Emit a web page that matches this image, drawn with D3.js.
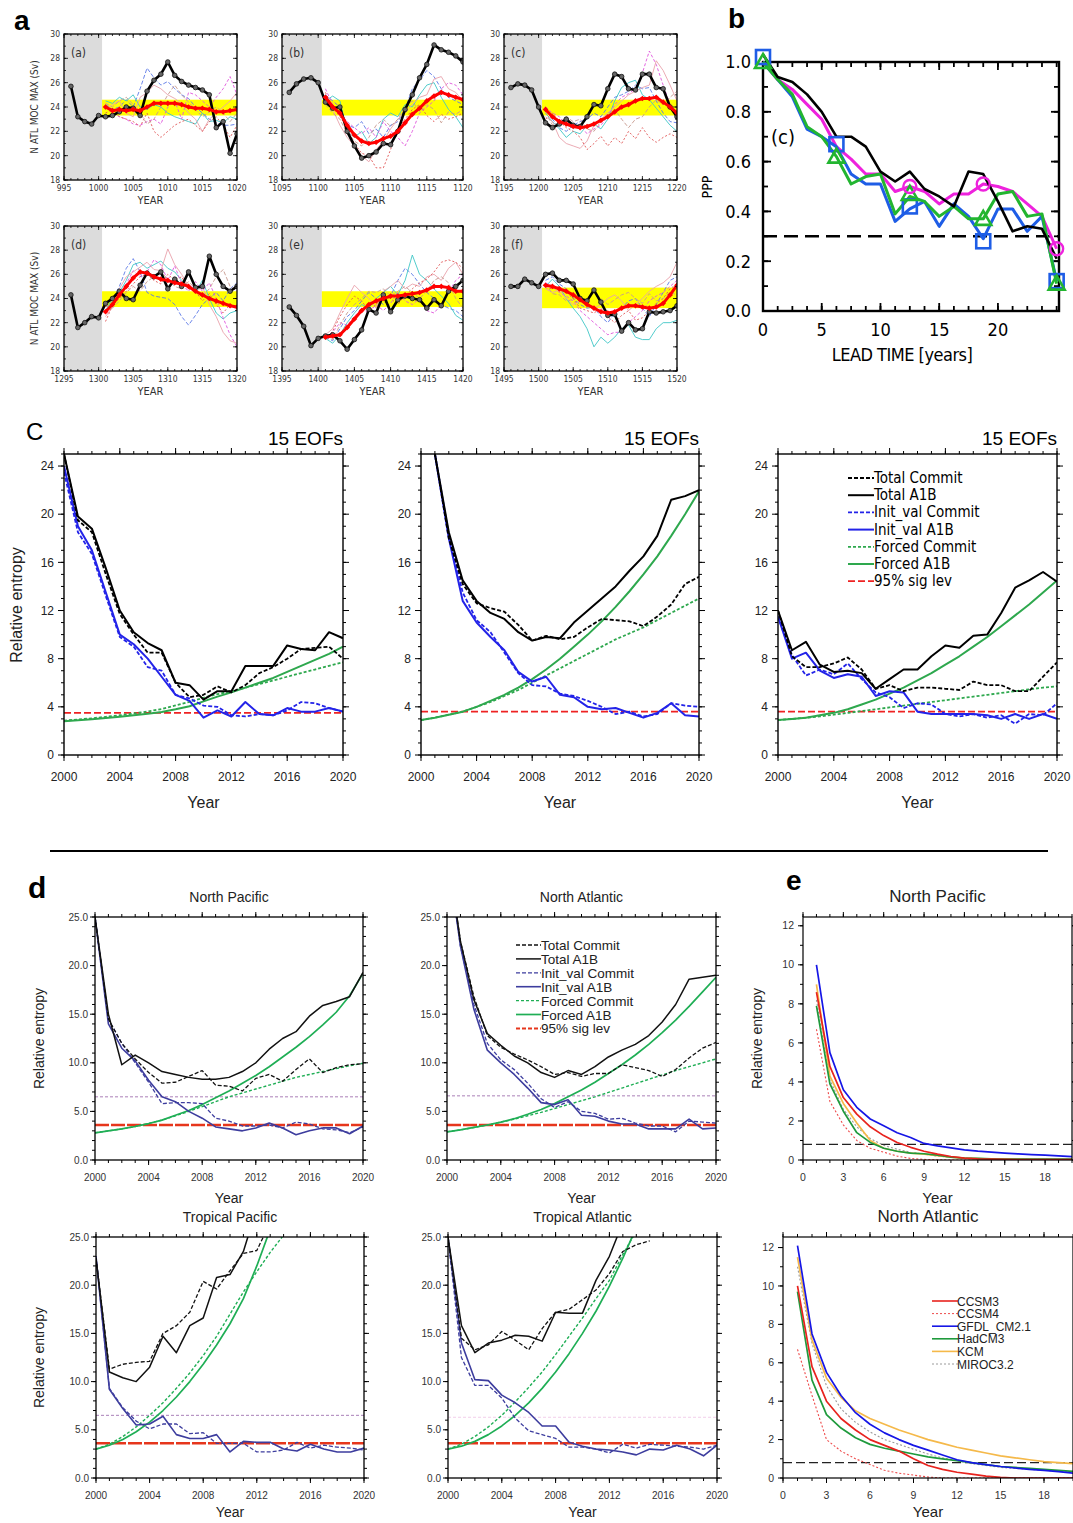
<!DOCTYPE html>
<html><head><meta charset="utf-8">
<script src="https://cdn.jsdelivr.net/npm/d3@7"></script>
<style>body{margin:0;background:#fff}svg{display:block}</style>
</head><body>
<script>
// ================= DATA =================
// ---- Panel a: N ATL MOC max (Sv), six ensemble experiments ----
const aStartYears = [995, 1095, 1195, 1295, 1395, 1495];
const aLabels = ["(a)", "(b)", "(c)", "(d)", "(e)", "(f)"];
const aTickYears = [[995,1000,1005,1010,1015,1020],[1095,1100,1105,1110,1115,1120],[1195,1200,1205,1210,1215,1220],
                    [1295,1300,1305,1310,1315,1320],[1395,1400,1405,1410,1415,1420],[1495,1500,1505,1510,1515,1520]];
const aYTicks = [18,20,22,24,26,28,30];
const aBand = [[23.3,24.6],[23.3,24.6],[23.3,24.6],[23.3,24.6],[23.3,24.6],[23.2,24.9]];
// control run (black), years start+1 .. start+25
const aControl = [
  [25.7,23.2,22.8,22.6,23.3,23.2,23.3,23.6,24.0,23.9,23.3,25.3,26.2,26.7,27.7,26.6,26.1,25.8,25.6,25.4,25.0,22.3,22.8,20.2,21.8],
  [25.2,25.9,26.3,26.4,26.0,24.4,23.9,24.0,22.0,20.8,19.8,20.0,20.3,21.0,20.9,22.0,23.8,25.0,26.4,27.5,29.1,28.7,28.5,28.2,27.7],
  [25.6,25.9,25.8,25.4,24.0,22.7,22.3,22.6,23.0,22.5,22.4,23.2,24.2,24.1,25.5,26.7,26.5,25.5,25.4,26.7,26.7,25.6,25.5,24.0,23.2],
  [24.3,21.6,22.0,22.5,22.4,23.6,24.0,24.6,24.0,23.9,25.1,26.1,25.8,26.2,24.8,25.6,25.0,26.2,24.9,25.0,27.5,26.0,25.0,24.6,25.0],
  [23.3,22.6,21.7,20.1,20.7,20.9,21.0,20.5,19.8,20.6,21.4,23.1,22.8,24.3,22.9,23.9,24.2,24.0,23.9,23.2,23.9,23.4,24.6,25.0,25.5],
  [25.0,25.0,25.6,25.3,25.0,26.0,26.1,25.5,25.5,25.2,24.0,23.8,24.7,23.7,22.6,22.7,21.3,22.0,21.4,21.5,22.9,22.8,22.9,23.0,23.4]
];
// ensemble mean (red), years start+6 .. start+25
const aMean = [
  [24.0,23.7,23.8,23.7,23.8,23.7,24.0,24.3,24.3,24.3,24.3,24.2,24.0,23.9,23.9,23.8,23.6,23.6,23.7,23.8],
  [24.8,24.0,23.5,22.5,21.7,21.2,21.0,21.1,21.4,21.6,22.0,22.7,23.4,23.9,24.5,24.9,25.2,25.0,24.8,24.6],
  [23.8,23.2,22.8,22.6,22.4,22.3,22.4,22.6,22.9,23.2,23.6,24.0,24.2,24.5,24.7,24.7,24.8,24.4,24.0,23.5],
  [22.9,23.5,24.3,25.0,25.7,26.2,26.1,25.8,25.6,25.5,25.3,25.2,25.0,24.6,24.3,24.0,23.8,23.6,23.4,23.3],
  [20.8,20.9,21.0,21.6,22.3,23.0,23.5,23.8,24.0,24.2,24.2,24.3,24.4,24.5,24.7,25.0,25.0,24.9,24.6,24.6],
  [25.1,25.0,24.8,24.6,24.3,23.9,23.5,23.2,22.9,22.8,22.9,23.2,23.4,23.4,23.3,23.2,23.3,23.6,24.3,25.1]
];
// individual ensemble members, years start+6 .. start+25
const aMembersA = [
  [24.2,23.8,24.0,24.6,24.0,25.5,27.2,26.4,25.8,26.1,25.5,25.0,24.7,24.0,23.5,23.0,22.7,22.5,22.5,22.6],
  [24.5,24.3,24.8,24.5,25.0,24.0,23.8,24.2,24.0,23.5,23.2,23.0,22.8,22.6,23.5,22.8,22.9,22.7,23.2,23.0],
  [24.0,23.5,23.2,23.0,22.6,22.5,22.8,23.0,22.6,24.0,24.5,23.0,25.2,25.0,24.5,24.0,24.8,25.5,26.5,25.0],
  [23.8,24.2,24.5,23.5,23.2,24.8,25.2,25.8,25.5,25.0,24.7,24.3,23.5,23.0,22.0,23.0,23.5,24.0,24.5,25.2],
  [23.5,23.8,23.2,23.0,22.8,22.4,23.5,22.0,21.5,22.0,22.5,22.8,23.0,22.5,22.0,22.8,23.2,22.5,21.5,22.5],
  [24.3,24.0,24.5,24.8,24.2,23.5,22.6,23.0,24.0,25.0,25.8,25.0,24.4,23.8,23.2,23.6,24.0,23.5,22.8,23.5]
];
const aMembersB = [
  [25.0,24.5,24.0,22.5,22.3,22.8,21.8,22.2,21.5,22.5,22.8,23.8,25.5,26.2,27.0,26.5,25.5,24.8,24.5,24.2],
  [24.5,24.9,24.5,22.0,21.5,22.0,21.0,21.5,23.0,23.5,23.2,24.2,24.0,25.0,25.8,26.0,24.8,23.8,23.2,22.3],
  [25.5,24.2,23.5,22.8,22.3,21.8,22.3,21.5,22.8,22.0,21.5,20.8,22.0,23.5,24.0,24.5,25.5,26.0,25.8,25.0],
  [24.8,23.8,22.5,21.5,20.8,20.0,19.5,20.5,21.2,22.2,23.0,23.5,24.2,24.8,25.0,26.3,26.5,25.5,25.2,24.5],
  [25.2,24.0,23.2,22.3,21.0,20.2,20.0,19.0,19.0,20.5,22.3,23.0,23.8,24.2,23.3,22.8,23.4,23.0,23.2,23.5],
  [24.2,23.5,23.0,21.8,21.2,20.8,21.5,22.5,23.0,22.4,23.0,24.0,24.5,23.6,24.2,23.8,22.7,23.6,23.4,23.8]
];
const aMembersC = [
  [23.9,23.0,22.3,22.0,22.5,22.8,23.0,23.5,23.2,24.0,24.8,25.0,25.3,25.8,25.5,25.6,24.5,23.5,22.8,22.7],
  [23.5,22.8,22.2,21.5,22.0,21.8,22.5,22.6,22.2,23.0,24.5,25.6,26.0,26.2,25.0,24.6,23.9,23.2,22.5,22.0],
  [24.0,23.5,23.2,22.5,22.6,22.5,21.8,22.2,22.5,23.2,24.2,24.8,25.1,25.5,26.8,28.6,27.5,25.8,24.2,23.3],
  [23.2,22.8,21.5,21.0,20.8,20.6,21.2,22.5,23.0,23.5,24.0,24.5,25.0,25.3,25.6,25.8,27.8,27.0,25.8,24.5],
  [23.0,23.5,22.8,22.3,22.0,21.5,20.5,21.0,21.6,20.8,21.5,21.0,22.0,21.4,22.3,21.5,21.1,21.5,21.8,21.5],
  [23.6,22.5,22.7,23.2,22.8,23.0,22.2,22.0,22.8,23.5,23.8,23.0,22.3,23.0,23.2,24.0,24.6,24.2,24.8,25.3]
];
const aMembersD = [
  [22.8,23.8,25.0,26.5,27.3,26.2,24.5,24.2,24.1,24.0,23.5,22.5,21.8,22.6,23.5,24.0,24.5,23.8,24.8,25.3],
  [23.0,24.0,24.5,25.5,26.8,27.0,26.5,26.8,27.1,26.5,26.2,25.5,25.0,24.5,25.5,24.0,22.8,22.3,22.8,23.0],
  [23.3,23.6,24.2,25.2,26.3,25.8,26.2,27.2,26.8,25.5,26.7,25.2,24.6,25.4,24.6,25.3,24.0,22.4,21.0,20.0],
  [22.5,23.3,24.8,25.8,26.2,26.6,27.0,26.4,26.3,28.1,26.8,26.0,25.0,24.5,25.0,23.5,22.5,21.2,20.5,20.3],
  [22.1,23.4,24.0,24.6,25.2,25.8,26.0,25.5,25.2,26.0,25.5,25.8,24.8,24.6,23.8,24.4,23.5,22.8,23.5,23.0],
  [23.1,23.2,23.8,24.5,25.0,24.6,25.4,25.8,26.2,25.6,25.0,24.8,25.4,24.8,24.2,24.8,25.8,26.4,25.0,24.6]
];
const aMembersE = [
  [20.8,20.5,21.5,22.5,23.0,23.8,24.5,24.0,23.5,24.2,25.5,26.5,26.0,25.2,24.5,24.0,23.5,23.2,23.0,22.5],
  [20.7,20.3,21.0,22.0,22.8,23.5,23.2,24.0,24.5,25.0,24.3,25.5,27.6,26.0,25.5,24.8,24.2,23.6,22.6,22.2],
  [20.9,21.2,22.0,21.8,22.5,23.2,22.8,23.5,23.0,23.6,24.5,23.8,23.5,24.0,23.0,22.8,23.5,24.5,25.5,26.0],
  [21.0,21.5,22.8,24.0,25.1,24.5,24.0,23.2,24.6,25.0,25.5,24.8,25.2,25.0,25.8,26.0,25.5,26.5,27.0,26.0],
  [20.6,21.3,22.5,23.5,24.2,23.8,23.0,23.5,24.2,24.0,23.5,24.3,24.8,25.3,25.6,26.2,27.0,27.2,27.0,26.5],
  [20.9,20.6,21.8,22.8,23.5,24.0,24.6,24.5,24.8,24.2,24.6,25.0,24.5,24.0,24.6,25.5,25.8,25.3,24.0,23.2]
];
const aMembersF = [
  [25.5,25.8,25.2,24.8,24.0,23.5,23.2,23.3,22.5,22.0,22.8,23.2,23.8,24.0,23.2,22.5,23.5,24.5,25.5,25.8],
  [25.0,25.6,25.0,24.0,23.2,22.5,21.5,20.0,20.8,20.3,20.8,21.5,21.8,20.8,20.6,20.6,21.5,22.0,22.0,22.2],
  [25.3,25.0,24.5,24.2,23.8,23.0,22.5,22.0,21.5,21.0,21.2,21.2,22.0,22.5,23.0,23.8,24.2,24.5,25.0,25.5],
  [24.8,24.5,24.7,24.0,23.5,23.8,23.5,23.2,23.5,24.0,24.3,23.8,23.0,23.5,24.0,24.6,25.0,25.3,25.8,27.0],
  [24.9,24.8,25.0,24.5,24.0,23.2,23.0,22.8,23.2,22.5,22.0,22.6,23.0,22.2,22.4,23.0,23.6,24.0,24.8,25.2],
  [25.2,24.4,24.3,23.8,23.9,24.2,23.8,24.5,24.0,23.5,23.9,24.3,24.5,24.0,23.6,24.4,23.8,24.0,24.5,24.3]
];
const aMembers = [aMembersA, aMembersB, aMembersC, aMembersD, aMembersE, aMembersF];
const aMemberColors = ["#5b78e6", "#3fc6c6", "#e055dd", "#e9a1ab", "#e05353", "#c79a8f"];
const aMemberDash = ["4,2", "none", "3,2", "none", "2,2", "4,2"];

// ---- Panel b: PPP vs lead time ----
const bLead = [0,1.25,2.5,3.75,5,6.25,7.5,8.75,10,11.25,12.5,13.75,15,16.25,17.5,18.75,20,21.25,22.5,23.75,25];
const bBlack   = [1.03,0.94,0.92,0.87,0.80,0.70,0.70,0.66,0.56,0.52,0.56,0.49,0.46,0.42,0.56,0.55,0.44,0.32,0.34,0.33,0.21];
const bMagenta = [1.00,0.93,0.89,0.83,0.77,0.66,0.61,0.55,0.55,0.48,0.50,0.48,0.43,0.47,0.47,0.51,0.50,0.48,0.43,0.38,0.25];
const bBlue    = [1.00,0.93,0.86,0.73,0.70,0.66,0.55,0.51,0.51,0.36,0.41,0.44,0.34,0.43,0.38,0.29,0.41,0.41,0.32,0.38,0.12];
const bGreen   = [1.00,0.93,0.87,0.74,0.70,0.62,0.51,0.54,0.55,0.39,0.46,0.44,0.38,0.42,0.37,0.37,0.47,0.48,0.38,0.39,0.11];
const bSquares   = [[0,1.02],[6.25,0.67],[12.5,0.42],[18.75,0.28],[25,0.12]];
const bTriangles = [[0,1.0],[6.25,0.62],[12.5,0.47],[18.75,0.37],[25,0.11]];
const bCircles   = [[12.5,0.50],[18.75,0.51],[25,0.25]];
const bSigLevel = 0.3;
const bXTicks = [0,5,10,15,20];
const bYTicks = [0,0.2,0.4,0.6,0.8,1.0];

// ---- Panel c: relative entropy, 15 EOFs ----
const cYears = [2000,2001,2002,2003,2004,2005,2006,2007,2008,2009,2010,2011,2012,2013,2014,2015,2016,2017,2018,2019,2020];
const cXTicks = [2000,2004,2008,2012,2016,2020];
const cYTicks = [0,4,8,12,16,20,24];
const c1TotalA1B    = [25.0,19.8,18.8,15.5,12.0,10.2,9.3,8.7,6.0,5.8,4.6,5.3,5.3,7.4,7.4,7.4,9.1,8.8,8.7,10.2,9.7];
const c1TotalCommit = [25.0,19.5,18.5,15.0,11.7,10.0,8.5,8.5,6.0,4.8,5.0,5.7,5.2,5.8,6.8,7.3,8.0,8.8,8.9,9.0,8.0];
const c1InitA1B     = [24.0,19.0,17.0,13.5,10.0,9.2,8.0,6.5,5.0,4.5,3.1,3.7,3.2,4.4,3.4,3.3,3.9,3.6,3.6,3.9,3.6];
const c1InitCommit  = [23.5,18.5,16.7,13.2,9.8,9.0,7.3,7.0,5.0,4.7,4.1,4.0,3.3,3.2,3.4,3.3,3.7,4.4,4.3,3.9,3.6];
const c1ForcedA1B   = [2.80,2.88,2.97,3.07,3.18,3.30,3.43,3.58,3.80,4.05,4.45,4.85,5.20,5.60,6.00,6.40,6.90,7.40,7.90,8.40,9.00];
const c1ForcedCommit= [2.85,2.95,3.05,3.17,3.30,3.45,3.62,3.82,4.12,4.42,4.75,5.05,5.30,5.60,5.90,6.20,6.50,6.80,7.10,7.40,7.70];
const c1Sig = 3.5;
const c2TotalA1B    = [32.0,25.0,18.5,14.5,12.8,11.8,11.3,10.2,9.5,9.8,9.7,11.0,12.0,13.0,14.0,15.3,16.5,18.2,21.2,21.5,22.0];
const c2TotalCommit = [32.0,25.0,18.0,14.2,12.6,12.2,11.9,10.8,9.5,9.9,9.6,9.8,10.6,11.3,11.2,11.1,10.7,11.5,12.5,14.2,14.8];
const c2InitA1B     = [32.0,25.0,18.0,12.8,11.0,9.8,8.7,6.9,6.1,6.5,5.0,4.8,4.0,3.8,3.9,3.5,3.1,3.5,4.3,3.3,3.2];
const c2InitCommit  = [32.0,25.0,18.3,13.5,11.2,10.2,8.5,6.8,5.8,5.7,5.1,4.9,4.5,4.0,3.4,3.6,3.2,3.4,4.3,4.1,4.0];
const c2ForcedA1B   = [2.9,3.1,3.35,3.6,4.0,4.5,5.0,5.6,6.3,7.1,8.0,9.0,10.0,11.1,12.3,13.6,15.0,16.5,18.2,20.0,21.9];
const c2ForcedCommit= [2.9,3.1,3.35,3.6,4.0,4.4,4.9,5.4,6.0,6.6,7.2,7.8,8.4,9.0,9.6,10.1,10.6,11.2,11.8,12.4,13.0];
const c2Sig = 3.6;
const c3TotalA1B    = [12.0,8.7,9.4,7.5,6.9,7.0,6.8,5.5,6.3,7.1,7.1,8.2,9.1,8.9,9.9,10.0,11.8,13.9,14.5,15.2,14.4];
const c3TotalCommit = [12.0,8.2,7.3,7.3,7.6,8.1,7.1,5.5,5.8,5.3,5.6,5.6,5.5,5.4,6.1,5.8,5.8,5.3,5.3,6.5,7.7];
const c3InitA1B     = [11.5,8.0,8.5,7.0,6.4,6.7,6.5,4.9,5.3,5.2,3.6,3.4,3.4,3.4,3.4,3.3,3.0,3.4,3.0,3.4,3.0];
const c3InitCommit  = [11.5,8.3,6.6,7.1,6.7,7.6,6.3,5.2,4.8,3.9,4.3,4.2,3.4,3.2,3.4,3.1,3.3,2.6,3.4,3.3,4.3];
const c3ForcedA1B   = [2.9,3.0,3.1,3.3,3.5,3.8,4.2,4.6,5.1,5.6,6.2,6.8,7.5,8.2,9.0,9.8,10.7,11.6,12.5,13.5,14.5];
const c3ForcedCommit= [2.9,3.0,3.1,3.2,3.35,3.5,3.65,3.8,3.95,4.1,4.25,4.4,4.55,4.7,4.85,5.0,5.15,5.3,5.45,5.6,5.7];
const c3Sig = 3.6;
const cLegendLabels = ["Total Commit","Total A1B","Init_val Commit","Init_val A1B","Forced Commit","Forced A1B","95% sig lev"];

// ---- Panel d: relative entropy by region ----
const dYears = cYears;
const dXTicks = [2000,2004,2008,2012,2016,2020];
const dYTicks = [0,5,10,15,20,25];
const dTitles = ["North Pacific","North Atlantic","Tropical Pacific","Tropical Atlantic"];
const dNP = {
  totalA1B:    [25.0,15.0,9.8,10.8,10.0,9.1,8.8,8.5,8.3,8.3,8.5,9.1,10.0,11.4,12.5,13.2,14.8,15.9,16.3,16.8,19.3],
  totalCommit: [25.0,14.5,12.0,10.4,9.0,7.9,8.0,8.6,9.2,7.7,7.6,7.1,8.4,8.8,8.1,9.3,10.4,9.0,9.5,9.8,9.9],
  initA1B:     [25.0,14.0,11.5,10.2,8.2,6.5,6.0,5.0,4.3,3.4,3.2,3.0,3.3,3.8,3.3,2.6,3.0,3.3,3.3,2.7,3.5],
  initCommit:  [25.0,14.5,12.0,10.0,8.0,5.8,5.9,5.9,5.8,4.3,4.0,3.5,3.5,3.6,3.3,3.9,3.7,3.2,3.1,2.8,3.4],
  forcedA1B:   [2.8,3.0,3.2,3.45,3.75,4.1,4.6,5.1,5.7,6.4,7.1,7.9,8.7,9.6,10.6,11.6,12.7,13.9,15.2,16.9,19.2],
  forcedCommit:[2.8,3.0,3.2,3.45,3.75,4.1,4.55,5.0,5.5,6.0,6.5,6.9,7.3,7.7,8.1,8.5,8.8,9.1,9.4,9.7,9.95],
  sig: 3.6, ref: 6.5
};
const dNA = {
  totalA1B:    [32.0,22.5,16.5,13.0,11.8,10.7,10.0,9.0,8.5,9.2,8.8,9.6,10.6,11.3,11.9,12.8,14.2,16.0,18.6,18.8,19.0],
  totalCommit: [32.0,22.5,16.8,12.8,11.6,10.9,10.3,9.6,8.8,9.0,8.6,8.9,8.9,9.8,9.5,9.2,8.6,9.3,10.5,11.5,12.1],
  initA1B:     [32.0,22.0,15.5,11.3,10.0,8.8,7.4,5.9,5.7,6.2,4.6,4.5,4.0,3.7,3.7,3.2,3.2,3.2,4.2,3.2,3.3],
  initCommit:  [32.0,22.0,16.0,12.0,10.3,9.3,7.9,6.3,5.4,6.0,5.0,4.8,4.2,4.3,3.8,3.5,3.5,2.9,4.0,3.9,3.8],
  forcedA1B:   [2.9,3.1,3.35,3.6,3.9,4.25,4.7,5.2,5.8,6.5,7.2,8.0,8.9,9.8,10.8,11.9,13.1,14.4,15.8,17.3,18.8],
  forcedCommit:[2.9,3.1,3.35,3.6,3.9,4.2,4.55,4.9,5.3,5.7,6.1,6.5,6.95,7.4,7.85,8.3,8.75,9.2,9.6,10.0,10.4],
  sig: 3.6, ref: 6.6
};
const dTP = {
  totalA1B:    [22.8,11.0,10.4,10.0,11.5,14.7,13.0,15.8,16.6,20.8,21.1,23.5,28.0,null,null,null,null,null,null,null,null],
  totalCommit: [22.8,11.3,11.8,12.0,12.1,15.0,15.8,17.2,20.4,19.6,21.5,23.3,23.6,26.5,null,null,null,null,null,null,null],
  initA1B:     [23.0,9.2,7.2,5.5,5.6,6.4,4.5,4.1,4.1,4.5,2.7,3.8,3.7,3.7,3.0,2.8,3.5,3.0,2.7,2.7,3.1],
  initCommit:  [23.0,9.3,7.3,5.9,5.1,5.6,5.6,4.6,4.7,3.6,3.6,3.6,2.7,2.7,2.9,3.7,3.1,3.4,3.2,3.1,2.9],
  forcedA1B:   [3.0,3.4,4.0,4.8,5.8,7.0,8.4,10.0,11.8,13.8,16.0,18.6,22.0,25.8,null,null,null,null,null,null,null],
  forcedCommit:[3.0,3.5,4.3,5.3,6.5,7.8,9.3,10.9,12.7,14.7,17.0,19.3,21.4,23.4,25.2,null,null,null,null,null,null],
  sig: 3.6, ref: 6.5
};
const dTA = {
  totalA1B:    [25.0,15.8,13.0,14.0,14.3,14.8,14.7,14.2,17.2,17.1,17.1,20.5,23.0,26.5,null,null,null,null,null,null,null],
  totalCommit: [25.0,14.5,13.3,13.8,15.2,14.3,13.3,15.5,17.2,17.5,18.5,19.5,21.2,23.5,24.2,24.6,null,null,null,null,null],
  initA1B:     [25.0,14.0,10.2,10.1,8.6,7.8,6.8,5.4,5.4,3.7,3.3,3.0,2.9,2.7,2.4,3.0,2.9,3.4,3.0,2.3,3.4],
  initCommit:  [25.0,12.5,9.6,9.6,8.3,6.2,4.9,4.5,4.1,3.2,3.2,3.0,2.6,3.5,3.1,3.5,3.4,3.3,3.2,3.0,3.4],
  forcedA1B:   [3.0,3.3,3.8,4.5,5.4,6.5,7.8,9.3,11.0,12.9,15.0,17.3,19.9,22.8,26.0,null,null,null,null,null,null],
  forcedCommit:[3.0,3.5,4.3,5.3,6.5,7.9,9.4,11.0,12.8,14.7,16.6,18.6,20.5,23.2,25.6,null,null,null,null,null,null],
  sig: 3.6, ref: 6.3
};
const dRegions = [dNP, dNA, dTP, dTA];

// ---- Panel e: multi-model relative entropy ----
const eYears = [1,2,3,4,5,6,7,8,9,10,11,12,13,14,15,16,17,18,19,20];
const eXTicks = [0,3,6,9,12,15,18];
const eYTicks = [0,2,4,6,8,10,12];
const eModels = ["CCSM3","CCSM4","GFDL_CM2.1","HadCM3","KCM","MIROC3.2"];
const eColors = ["#e8231e","#ee4a4a","#1616e6","#1f9a3c","#f5b94a","#9a9a9a"];
const eDash = ["none","2,2","none","none","none","2,2"];
const eNP = [
  [8.6,4.8,3.2,2.35,1.7,1.25,0.9,0.65,0.45,0.3,0.18,0.1,0.06,0.04,0.03,0.02,0.02,0.02,0.02,0.02],
  [6.7,3.0,1.8,1.0,0.6,0.4,0.2,0.08,0.03,0.01,0.0,0.0,0.0,0.0,0.0,0.0,0.0,0.0,0.0,0.0],
  [10.0,5.5,3.6,2.7,2.1,1.75,1.4,1.15,0.85,0.72,0.62,0.52,0.45,0.4,0.35,0.31,0.28,0.25,0.21,0.17],
  [7.9,3.9,2.5,1.4,0.9,0.6,0.45,0.35,0.32,0.25,0.15,0.1,0.08,0.06,0.05,0.05,0.04,0.04,0.04,0.04],
  [9.0,4.3,2.9,1.9,1.0,0.6,0.45,0.35,0.3,0.22,0.15,0.1,0.07,0.05,0.04,0.04,0.03,0.03,0.03,0.03],
  [8.2,4.1,2.6,1.7,1.1,0.75,0.55,0.4,0.3,0.2,0.14,0.1,0.07,0.05,0.04,0.04,0.03,0.03,0.03,0.03]
];
const eNA = [
  [10.0,5.8,4.0,3.1,2.5,2.0,1.7,1.4,1.0,0.65,0.45,0.3,0.2,0.1,0.03,0.0,0.0,0.0,0.0,0.0],
  [6.7,4.3,2.0,1.4,1.0,0.7,0.4,0.25,0.15,0.05,0.0,0.0,0.0,0.0,0.0,0.0,0.0,0.0,0.0,0.0],
  [12.1,7.5,5.5,4.3,3.4,2.8,2.35,2.0,1.7,1.45,1.2,0.95,0.8,0.7,0.6,0.52,0.45,0.4,0.33,0.25],
  [9.7,5.1,3.3,2.6,2.1,1.75,1.55,1.4,1.25,1.1,1.0,0.9,0.8,0.7,0.6,0.55,0.5,0.45,0.4,0.35],
  [11.5,7.2,5.2,4.2,3.5,3.1,2.8,2.5,2.25,2.0,1.8,1.6,1.45,1.3,1.15,1.05,0.95,0.85,0.8,0.75],
  [11.0,7.0,4.8,3.6,2.9,2.4,2.0,1.75,1.5,1.25,1.05,0.9,0.75,0.65,0.55,0.5,0.45,0.4,0.35,0.3]
];
const eSig = 0.8;

// ================= DRAWING =================
const svg = d3.select("body").append("svg").attr("width", 1073).attr("height", 1523)
  .style("font-family", "'Liberation Sans', Arial, sans-serif");
const defs = svg.append("defs");
let clipCount = 0;
function clipTo(x0, y0, w, h) {
  const id = "clip" + (clipCount++);
  defs.append("clipPath").attr("id", id).append("rect")
    .attr("x", x0).attr("y", y0).attr("width", w).attr("height", h);
  return `url(#${id})`;
}

// Axis box with ticks on all four sides
function frame(g, xs, ys, o) {
  const [x0, x1] = xs.range();
  const [y1, y0] = ys.range();
  const d = o.out ? 1 : -1;
  const t = g.append("g").attr("stroke", "#000").attr("stroke-width", o.tw || 1);
  const tick = (v, len, axis) => {
    if (axis === "x") {
      const p = xs(v);
      t.append("line").attr("x1", p).attr("x2", p).attr("y1", y1).attr("y2", y1 + d * len);
      if (o.top !== false) t.append("line").attr("x1", p).attr("x2", p).attr("y1", y0).attr("y2", y0 - d * len);
    } else {
      const p = ys(v);
      t.append("line").attr("y1", p).attr("y2", p).attr("x1", x0).attr("x2", x0 - d * len);
      if (o.right !== false) t.append("line").attr("y1", p).attr("y2", p).attr("x1", x1).attr("x2", x1 + d * len);
    }
  };
  (o.xMinor || []).forEach(v => tick(v, o.minLen, "x"));
  (o.yMinor || []).forEach(v => tick(v, o.minLen, "y"));
  o.xMajor.forEach(v => tick(v, o.majLen, "x"));
  o.yMajor.forEach(v => tick(v, o.majLen, "y"));
  g.append("rect").attr("x", x0).attr("y", y0).attr("width", x1 - x0).attr("height", y1 - y0)
    .attr("fill", "none").attr("stroke", "#000").attr("stroke-width", o.bw || 1);
  const lab = g.append("g").style("font-family", o.font).style("font-size", o.fs + "px").attr("fill", o.color || "#000");
  o.xMajor.forEach(v => lab.append("text").attr("x", xs(v)).attr("y", y1 + o.xGap)
    .attr("text-anchor", "middle").text(o.xFmt ? o.xFmt(v) : v));
  o.yMajor.forEach(v => lab.append("text").attr("x", x0 - o.yGap).attr("y", ys(v)).attr("dy", "0.35em")
    .attr("text-anchor", "end").text(o.yFmt ? o.yFmt(v) : v));
}
function seq(a, b, step) { const r = []; for (let v = a; v <= b + 1e-9; v += step) r.push(+v.toFixed(4)); return r; }
function pathLine(g, xs, ys, xv, yv, st) {
  const pts = xv.map((x, i) => [x, yv[i]]);
  g.append("path").datum(pts)
    .attr("d", d3.line().defined(p => p[1] !== null).x(p => xs(p[0])).y(p => ys(p[1])))
    .attr("fill", "none").attr("stroke", st.c).attr("stroke-width", st.w)
    .attr("stroke-dasharray", st.dash || null).attr("stroke-linejoin", "round");
}

const narrow = "'DejaVu Sans Condensed', 'Liberation Sans Narrow', 'Liberation Sans', Arial, sans-serif";

// ---------- Panel a ----------
svg.append("text").attr("x", 14).attr("y", 30).attr("font-size", 28).attr("font-weight", "bold").text("a");
const aCols = [[64, 237], [282, 463], [504, 677]];
const aRows = [[34, 180], [226, 371]];
aStartYears.forEach((s, k) => {
  const [x0, x1] = aCols[k % 3], [y0, y1] = aRows[Math.floor(k / 3)];
  const xs = d3.scaleLinear().domain([s, s + 25]).range([x0, x1]);
  const ys = d3.scaleLinear().domain([18, 30]).range([y1, y0]);
  const g = svg.append("g");
  g.append("rect").attr("x", x0).attr("y", y0).attr("width", xs(s + 5.5) - x0).attr("height", y1 - y0).attr("fill", "#dcdcdc");
  g.append("rect").attr("x", xs(s + 5.5)).attr("y", ys(aBand[k][1])).attr("width", x1 - xs(s + 5.5))
    .attr("height", ys(aBand[k][0]) - ys(aBand[k][1])).attr("fill", "#ffff00");
  const inner = g.append("g").attr("clip-path", clipTo(x0, y0, x1 - x0, y1 - y0));
  const memberYears = aMean[k].map((_, i) => s + 6 + i);
  aMembers[k].forEach((m, j) => pathLine(inner, xs, ys, memberYears, m, { c: aMemberColors[j], w: 0.9, dash: aMemberDash[j] === "none" ? null : aMemberDash[j] }));
  const ctrlYears = aControl[k].map((_, i) => s + 1 + i);
  pathLine(inner, xs, ys, ctrlYears, aControl[k], { c: "#000", w: 2.6 });
  inner.selectAll(null).data(ctrlYears).enter().append("circle")
    .attr("cx", d => xs(d)).attr("cy", (d, i) => ys(aControl[k][i])).attr("r", 2.3)
    .attr("fill", "#666").attr("stroke", "#111").attr("stroke-width", 0.8);
  pathLine(inner, xs, ys, memberYears, aMean[k], { c: "#ff0000", w: 3 });
  inner.selectAll(null).data(memberYears).enter().append("path")
    .attr("transform", (d, i) => `translate(${xs(d)},${ys(aMean[k][i])}) rotate(45)`)
    .attr("d", d3.symbol(d3.symbolSquare, 16)).attr("fill", "#ff0000");
  frame(g, xs, ys, {
    xMajor: aTickYears[k], xMinor: seq(s, s + 25, 1), yMajor: aYTicks, yMinor: seq(18, 30, 1),
    out: false, majLen: 4, minLen: 2, tw: 0.8, bw: 1.3, font: narrow, fs: 8.5, xGap: 11, yGap: 4, color: "#333"
  });
  g.append("text").attr("x", x0 + 7).attr("y", y0 + 23).attr("font-size", 12).style("font-family", narrow).attr("fill", "#333").text(aLabels[k]);
  g.append("text").attr("x", (x0 + x1) / 2).attr("y", y1 + 24).attr("text-anchor", "middle")
    .attr("font-size", 11).style("font-family", narrow).attr("fill", "#333").text("YEAR");
  if (k % 3 === 0) {
    g.append("text").attr("transform", `translate(${x0 - 26},${(y0 + y1) / 2}) rotate(-90)`)
      .attr("text-anchor", "middle").attr("font-size", 10).style("font-family", narrow).attr("fill", "#333")
      .text("N ATL MOC MAX (Sv)");
  }
});

// ---------- Panel b ----------
{
  svg.append("text").attr("x", 728).attr("y", 28).attr("font-size", 28).attr("font-weight", "bold").text("b");
  const xs = d3.scaleLinear().domain([0, 25.2]).range([763, 1059]);
  const ys = d3.scaleLinear().domain([0, 1]).range([311, 62]);
  const g = svg.append("g");
  frame(g, xs, ys, {
    xMajor: bXTicks, xMinor: bLead, yMajor: bYTicks, yMinor: seq(0, 1, 0.1),
    out: false, majLen: 8, minLen: 5, tw: 1.8, bw: 2.4, font: narrow, fs: 18, xGap: 25, yGap: 12,
    yFmt: v => v.toFixed(1)
  });
  g.append("line").attr("x1", xs(0)).attr("x2", xs(25.2)).attr("y1", ys(bSigLevel)).attr("y2", ys(bSigLevel))
    .attr("stroke", "#000").attr("stroke-width", 2.5).attr("stroke-dasharray", "14,7");
  pathLine(g, xs, ys, bLead, bMagenta, { c: "#ee22dd", w: 3 });
  pathLine(g, xs, ys, bLead, bBlue, { c: "#1e5de6", w: 3 });
  pathLine(g, xs, ys, bLead, bGreen, { c: "#22b530", w: 3 });
  pathLine(g, xs, ys, bLead, bBlack, { c: "#000", w: 2.6 });
  bSquares.forEach(p => g.append("rect").attr("x", xs(p[0]) - 7).attr("y", ys(p[1]) - 7).attr("width", 14).attr("height", 14)
    .attr("fill", "none").attr("stroke", "#1e5de6").attr("stroke-width", 2.6));
  bTriangles.forEach(p => g.append("path").attr("transform", `translate(${xs(p[0])},${ys(p[1])})`)
    .attr("d", "M0,-8L8,6L-8,6Z").attr("fill", "none").attr("stroke", "#22b530").attr("stroke-width", 2.6));
  bCircles.forEach(p => g.append("circle").attr("cx", xs(p[0])).attr("cy", ys(p[1])).attr("r", 6.5)
    .attr("fill", "none").attr("stroke", "#ee22dd").attr("stroke-width", 2.4));
  g.append("text").attr("x", 771).attr("y", 144).attr("font-size", 20).style("font-family", narrow).text("(c)");
  g.append("text").attr("transform", "translate(712,187) rotate(-90)").attr("text-anchor", "middle")
    .attr("font-size", 14).style("font-family", narrow).text("PPP");
  g.append("text").attr("x", 902).attr("y", 361).attr("text-anchor", "middle").attr("font-size", 18)
    .style("font-family", narrow).attr("letter-spacing", "-0.5").text("LEAD TIME [years]");
}

// ---------- Panel c ----------
const cSets = [
  [c1TotalCommit, c1TotalA1B, c1InitCommit, c1InitA1B, c1ForcedCommit, c1ForcedA1B, c1Sig],
  [c2TotalCommit, c2TotalA1B, c2InitCommit, c2InitA1B, c2ForcedCommit, c2ForcedA1B, c2Sig],
  [c3TotalCommit, c3TotalA1B, c3InitCommit, c3InitA1B, c3ForcedCommit, c3ForcedA1B, c3Sig]
];
const cStyles = [
  { c: "#000", w: 1.8, dash: "4,2" }, { c: "#000", w: 2 },
  { c: "#2323e8", w: 1.8, dash: "4,2" }, { c: "#2323e8", w: 2 },
  { c: "#2ea84e", w: 1.8, dash: "3,2" }, { c: "#2ea84e", w: 2 },
  { c: "#ee2222", w: 1.8, dash: "7,3" }
];
svg.append("text").attr("x", 26).attr("y", 440).attr("font-size", 24).text("C");
const cBoxes = [[64, 343], [421, 699], [778, 1057]];
cSets.forEach((set, k) => {
  const [x0, x1] = cBoxes[k];
  const xs = d3.scaleLinear().domain([2000, 2020]).range([x0, x1]);
  const ys = d3.scaleLinear().domain([0, 25]).range([755, 454]);
  const g = svg.append("g");
  const inner = g.append("g").attr("clip-path", clipTo(x0, 454, x1 - x0, 301));
  const sig = set[6];
  inner.append("line").attr("x1", x0).attr("x2", x1).attr("y1", ys(sig)).attr("y2", ys(sig))
    .attr("stroke", cStyles[6].c).attr("stroke-width", cStyles[6].w).attr("stroke-dasharray", cStyles[6].dash);
  [4, 5, 2, 3, 0, 1].forEach(i => pathLine(inner, xs, ys, cYears, set[i], cStyles[i]));
  frame(g, xs, ys, {
    xMajor: cXTicks, xMinor: seq(2000, 2020, 1), yMajor: cYTicks, yMinor: seq(0, 25, 1),
    out: true, majLen: 6, minLen: 3, tw: 1, bw: 1.4, font: "'Liberation Sans', Arial", fs: 12, xGap: 26, yGap: 10, color: "#222"
  });
  g.append("text").attr("x", x1).attr("y", 445).attr("text-anchor", "end").attr("font-size", 19).text("15 EOFs");
  g.append("text").attr("x", (x0 + x1) / 2).attr("y", 808).attr("text-anchor", "middle").attr("font-size", 16).attr("fill", "#222").text("Year");
  if (k === 0) g.append("text").attr("transform", `translate(22,605) rotate(-90)`).attr("text-anchor", "middle")
    .attr("font-size", 16).attr("fill", "#222").text("Relative entropy");
  if (k === 2) {
    const lg = g.append("g");
    cLegendLabels.forEach((lab, i) => {
      const yy = 478 + i * 17.2;
      lg.append("line").attr("x1", 848).attr("x2", 874).attr("y1", yy).attr("y2", yy)
        .attr("stroke", cStyles[i].c).attr("stroke-width", cStyles[i].w).attr("stroke-dasharray", cStyles[i].dash || null);
      lg.append("text").attr("x", 874).attr("y", yy + 5).attr("font-size", 15).style("font-family", narrow).text(lab);
    });
  }
});
svg.append("line").attr("x1", 50).attr("x2", 1048).attr("y1", 851).attr("y2", 851).attr("stroke", "#000").attr("stroke-width", 2);

// ---------- Panel d ----------
svg.append("text").attr("x", 28).attr("y", 898).attr("font-size", 30).attr("font-weight", "bold").text("d");
const dBoxes = [[95, 363, 917, 1160], [447, 716, 917, 1160], [96, 364, 1237, 1478], [448, 717, 1237, 1478]];
const dStyles = {
  totalCommit: { c: "#111", w: 1.3, dash: "4,2" }, totalA1B: { c: "#111", w: 1.5 },
  initCommit: { c: "#3d3d9e", w: 1.3, dash: "4,2" }, initA1B: { c: "#3d3d9e", w: 1.6 },
  forcedCommit: { c: "#1fae55", w: 1.4, dash: "3,2" }, forcedA1B: { c: "#1fae55", w: 1.7 }
};
dRegions.forEach((r, k) => {
  const [x0, x1, y0, y1] = dBoxes[k];
  const xs = d3.scaleLinear().domain([2000, 2020]).range([x0, x1]);
  const ys = d3.scaleLinear().domain([0, 25]).range([y1, y0]);
  const g = svg.append("g");
  const inner = g.append("g").attr("clip-path", clipTo(x0, y0, x1 - x0, y1 - y0));
  inner.append("line").attr("x1", x0).attr("x2", x1).attr("y1", ys(r.ref)).attr("y2", ys(r.ref))
    .attr("stroke", k === 3 ? "#f0c8e8" : "#a070b0").attr("stroke-width", 0.9).attr("stroke-dasharray", "3,2");
  inner.append("line").attr("x1", x0).attr("x2", x1).attr("y1", ys(r.sig)).attr("y2", ys(r.sig))
    .attr("stroke", "#e6361c").attr("stroke-width", 2.4).attr("stroke-dasharray", "14,2");
  ["forcedCommit", "forcedA1B", "initCommit", "initA1B", "totalCommit", "totalA1B"]
    .forEach(key => pathLine(inner, xs, ys, dYears, r[key], dStyles[key]));
  frame(g, xs, ys, {
    xMajor: dXTicks, xMinor: seq(2000, 2020, 1), yMajor: dYTicks, yMinor: seq(0, 25, 1),
    out: true, majLen: 5, minLen: 3, tw: 1, bw: 1.3, font: "'Liberation Sans', Arial", fs: 10, xGap: 21, yGap: 7,
    yFmt: v => v.toFixed(1), color: "#333"
  });
  g.append("text").attr("x", (x0 + x1) / 2).attr("y", y0 - 15).attr("text-anchor", "middle").attr("font-size", 14).attr("fill", "#222").text(dTitles[k]);
  g.append("text").attr("x", (x0 + x1) / 2).attr("y", y1 + (k < 2 ? 43 : 39)).attr("text-anchor", "middle").attr("font-size", 14).attr("fill", "#222").text("Year");
  if (k % 2 === 0) g.append("text").attr("transform", `translate(44,${(y0 + y1) / 2}) rotate(-90)`).attr("text-anchor", "middle")
    .attr("font-size", 14).attr("fill", "#222").text("Relative entropy");
  if (k === 1) {
    const keys = ["totalCommit", "totalA1B", "initCommit", "initA1B", "forcedCommit", "forcedA1B"];
    cLegendLabels.forEach((lab, i) => {
      const yy = 945 + i * 13.9;
      const st = i < 6 ? dStyles[keys[i]] : { c: "#e6361c", w: 2, dash: "4,2" };
      g.append("line").attr("x1", 516).attr("x2", 541).attr("y1", yy).attr("y2", yy)
        .attr("stroke", st.c).attr("stroke-width", st.w).attr("stroke-dasharray", st.dash || null);
      g.append("text").attr("x", 541).attr("y", yy + 5).attr("font-size", 13.5).attr("fill", "#222").text(lab);
    });
  }
});

// ---------- Panel e ----------
svg.append("text").attr("x", 786).attr("y", 890).attr("font-size", 28).attr("font-weight", "bold").text("e");
const eBoxes = [[803, 1072, 917, 1160, 12.45, "North Pacific", eNP], [783, 1073, 1237, 1478, 12.55, "North Atlantic", eNA]];
eBoxes.forEach(([x0, x1, y0, y1, ymax, title, data], k) => {
  const xs = d3.scaleLinear().domain([0, 20]).range([x0, x1]);
  const ys = d3.scaleLinear().domain([0, ymax]).range([y1, y0]);
  const g = svg.append("g");
  const inner = g.append("g").attr("clip-path", clipTo(x0, y0, x1 - x0, y1 - y0));
  inner.append("line").attr("x1", x0).attr("x2", x1).attr("y1", ys(eSig)).attr("y2", ys(eSig))
    .attr("stroke", "#222").attr("stroke-width", 1.4).attr("stroke-dasharray", "9,4");
  [5, 1, 4, 3, 0, 2].forEach(i => pathLine(inner, xs, ys, eYears, data[i], { c: eColors[i], w: eDash[i] === "none" ? 1.7 : 1.1, dash: eDash[i] === "none" ? null : eDash[i] }));
  frame(g, xs, ys, {
    xMajor: eXTicks, xMinor: seq(0, 20, 1), yMajor: eYTicks, yMinor: seq(0, 12, 1),
    out: true, majLen: 5, minLen: 3, tw: 1, bw: 1.2, font: "'Liberation Sans', Arial", fs: 10.5, xGap: 21, yGap: 9, color: "#333"
  });
  g.append("text").attr("x", (x0 + x1) / 2).attr("y", y0 - 15).attr("text-anchor", "middle").attr("font-size", 17).attr("fill", "#222").text(title);
  g.append("text").attr("x", (x0 + x1) / 2).attr("y", y1 + (k === 0 ? 43 : 39)).attr("text-anchor", "middle").attr("font-size", 15).attr("fill", "#222").text("Year");
  if (k === 0) g.append("text").attr("transform", `translate(762,${(y0 + y1) / 2}) rotate(-90)`).attr("text-anchor", "middle")
    .attr("font-size", 14).attr("fill", "#222").text("Relative entropy");
  if (k === 1) {
    eModels.forEach((m, i) => {
      const yy = 1301 + i * 12.6;
      g.append("line").attr("x1", 932).attr("x2", 958).attr("y1", yy).attr("y2", yy)
        .attr("stroke", eColors[i]).attr("stroke-width", eDash[i] === "none" ? 1.6 : 1).attr("stroke-dasharray", eDash[i] === "none" ? null : eDash[i]);
      g.append("text").attr("x", 957).attr("y", yy + 4.5).attr("font-size", 12).attr("fill", "#222").text(m);
    });
  }
});
</script>
</body></html>
